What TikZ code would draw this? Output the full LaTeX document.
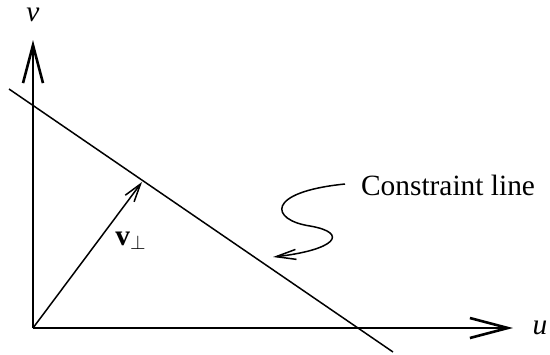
\documentclass[tikz,border=0pt]{standalone}
\usepackage{fontspec}
\setmainfont{Liberation Serif}
\usetikzlibrary{arrows.meta}
\begin{document}
\begin{tikzpicture}[font=\fontsize{14.7}{16}\selectfont,x=.5pt,y=-.5pt,
  axis/.style={line width=1.3pt,-{Straight Barb[length=19pt,width=10pt,line width=1.3pt]}},
  thin/.style={line width=.75pt}]
\useasboundingbox (0,0) rectangle (550,354);
\coordinate (O) at (33,328);
\coordinate (vtop) at (33,40);
\coordinate (uend) at (513,328);
\coordinate (cA) at (9,89);
\coordinate (cB) at (393,352);
\coordinate (P) at (142,182);
\coordinate (sq) at (345,184);
\coordinate (sqtip) at (273,257);
\draw[axis] (O)--(vtop);
\draw[axis] (O)--(uend);
\draw[thin] (cA)--(cB);
\draw[thin,-{Straight Barb[length=9pt,width=5.5pt,line width=.75pt]}] (O)--(P);
\draw[thin,-{Straight Barb[length=10pt,width=5pt,line width=.75pt]}] (sq)
  .. controls (265,192) and (270,220) .. (310,226)
  .. controls (350,233) and (335,250) .. (sqtip);
\node (lv) at (33,15) {\textit{v}};
\node (lu) at (540,328) {\textit{u}};
\node (lp) at (131,241) {\textbf{v}$_\perp$};
\node[anchor=west] (lc) at (354,185) {Constraint line};
\end{tikzpicture}
\end{document}
